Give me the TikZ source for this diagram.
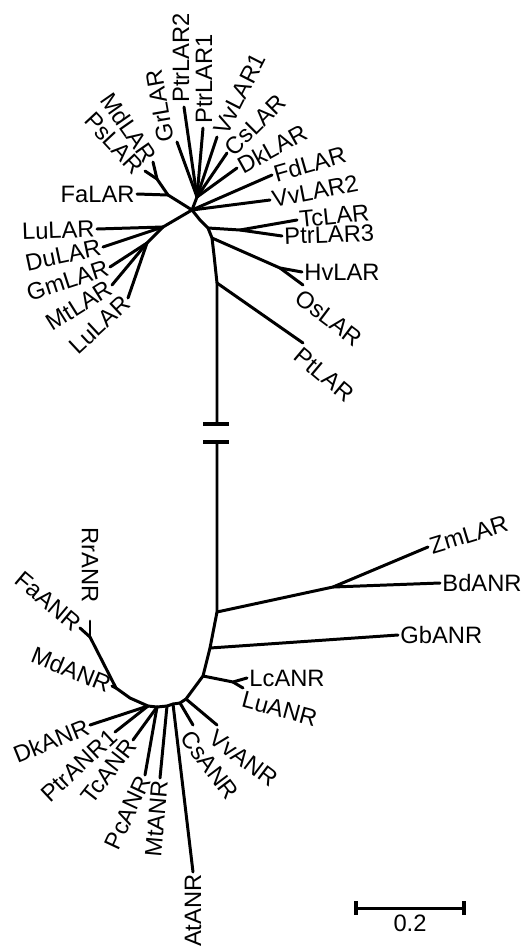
\documentclass[tikz,border=0pt]{standalone}
\usepackage{fontspec}
\setmainfont{Liberation Sans}
\begin{document}
\begin{tikzpicture}[x=0.2mm,y=-0.2mm,
  br/.style={line width=1.7pt, line join=round, line cap=round},
  brk/.style={line width=2.8pt},
  lab/.style={font=\fontsize{13.5}{15}\selectfont, inner sep=1.2pt}]
\useasboundingbox[fill=white] (0,0) rectangle (530,949);
% ---------- internal coordinates (upper cluster)
\coordinate (H) at (192,210);
\coordinate (A) at (168,195);
\coordinate (B) at (157,179);
\coordinate (U) at (197,197);
\coordinate (L1) at (163,227);
\coordinate (L2) at (147,243);
\coordinate (S1) at (200,220);
\coordinate (S2) at (208,228);
\coordinate (S3) at (212,238);
\coordinate (S4) at (214,255);
\coordinate (S5) at (217,283);
\coordinate (Sb) at (217,424);
\coordinate (TP) at (240,230);
\coordinate (HO) at (280,268);
% tips
\coordinate (tPs) at (145,171);
\coordinate (tMd) at (153,162);
\coordinate (tFa) at (137,194);
\coordinate (tGr) at (177,142);
\coordinate (tPtr2) at (184,107);
\coordinate (tPtr1) at (203,128);
\coordinate (tVv1) at (217,137);
\coordinate (tCs) at (227,153);
\coordinate (tDk) at (237,168);
\coordinate (tFd) at (272,175);
\coordinate (tVv2) at (270,200);
\coordinate (tTc) at (297,220);
\coordinate (tPtr3) at (282,236);
\coordinate (tHv) at (302,272);
\coordinate (tOs) at (303,285);
\coordinate (tPt) at (303,343);
\coordinate (tLu) at (97,229);
\coordinate (tDu) at (103,247);
\coordinate (tGm) at (110,267);
\coordinate (tMt) at (112,285);
\coordinate (tLu2) at (128,298);
% ---------- lower cluster
\coordinate (Sc) at (217,442);
\coordinate (N1) at (217,612);
\coordinate (ZB) at (333,587);
\coordinate (N2) at (210,648);
\coordinate (N3) at (203,676);
\coordinate (LL) at (233,682);
\coordinate (C2) at (186,699);
\coordinate (C3) at (180,703);
\coordinate (C4) at (173,704);
\coordinate (C5) at (167,706);
\coordinate (C6) at (157,707);
\coordinate (C7) at (148,706);
\coordinate (C8) at (130,698);
\coordinate (C9) at (116,688);
\coordinate (F) at (90,637);
\coordinate (tZm) at (428,547);
\coordinate (tBd) at (440,583);
\coordinate (tGb) at (398,635);
\coordinate (tLc) at (247,678);
\coordinate (tLuA) at (243,688);
\coordinate (tVvA) at (217,725);
\coordinate (tCsA) at (193,725);
\coordinate (tAt) at (193,872);
\coordinate (tMtA) at (160,778);
\coordinate (tPc) at (145,775);
\coordinate (tTcA) at (133,740);
\coordinate (tPtrA) at (115,732);
\coordinate (tDkA) at (90,725);
\coordinate (tMdA) at (112,686);
\coordinate (tFaA) at (80,628);
\coordinate (tRr) at (90,621);
% ---------- branches upper
\draw[br] (H) -- (A) -- (B) -- (tPs);
\draw[br] (A) -- (tFa);
\draw[br] (B) -- (tMd);
\draw[br] (H) -- (U);
\foreach \t in {tGr,tPtr2,tPtr1,tVv1,tCs,tDk} \draw[br] (U) -- (\t);
\draw[br] (H) -- (tFd);
\draw[br] (H) -- (tVv2);
\draw[br] (H) -- (L1) -- (L2);
\draw[br] (L1) -- (tLu);
\draw[br] (L1) -- (tDu);
\foreach \t in {tGm,tMt,tLu2} \draw[br] (L2) -- (\t);
\draw[br] (H) -- (S1) -- (S2) -- (S3) -- (S4) -- (S5) -- (Sb);
\draw[br] (S2) -- (TP) -- (tTc);
\draw[br] (TP) -- (tPtr3);
\draw[br] (S3) -- (HO) -- (tHv);
\draw[br] (HO) -- (tOs);
\draw[br] (S5) -- (tPt);
% break marks
\draw[brk] (203,424) -- (229,424);
\draw[brk] (203,442) -- (229,442);
% ---------- branches lower
\draw[br] (Sc) -- (N1) -- (N2) -- (N3) -- (C2) -- (C3) -- (C4) -- (C5) -- (C6) -- (C7) -- (C8) -- (C9) -- (F);
\draw[br] (N1) -- (ZB) -- (tZm);
\draw[br] (ZB) -- (tBd);
\draw[br] (N2) -- (tGb);
\draw[br] (N3) -- (LL) -- (tLc);
\draw[br] (LL) -- (tLuA);
\draw[br] (C2) -- (tVvA);
\draw[br] (C3) -- (tCsA);
\draw[br] (C4) -- (tAt);
\draw[br] (C5) -- (tMtA);
\draw[br] (C6) -- (tPc);
\draw[br] (C6) -- (tTcA);
\draw[br] (C7) -- (tPtrA);
\draw[br] (C7) -- (tDkA);
\draw[br] (C9) -- (tMdA);
\draw[br] (F) -- (tFaA);
\draw[br] (F) -- (tRr);
% ---------- labels upper
\node[lab,anchor=east,rotate=-47] (lPs) at (141,172) {PsLAR};
\node[lab,anchor=east,rotate=-55] (lMd) at (tMd) {MdLAR};
\node[lab,anchor=east] (lFa) at (tFa) {FaLAR};
\node[lab,anchor=south west,rotate=100] (lGr) at (tGr) {GrLAR};
\node[lab,anchor=west,rotate=90] (lPtr2) at (181,105) {PtrLAR2};
\node[lab,anchor=west,rotate=90] (lPtr1) at (204,126) {PtrLAR1};
\node[lab,anchor=west,rotate=63] (lVv1) at (219,135) {VvLAR1};
\node[lab,anchor=west,rotate=45] (lCs) at (tCs) {CsLAR};
\node[lab,anchor=west,rotate=29] (lDk) at (tDk) {DkLAR};
\node[lab,anchor=west,rotate=16] (lFd) at (tFd) {FdLAR};
\node[lab,anchor=west,rotate=11] (lVv2) at (tVv2) {VvLAR2};
\node[lab,anchor=west,rotate=6] (lTc) at (tTc) {TcLAR};
\node[lab,anchor=west,rotate=2] (lPtr3) at (tPtr3) {PtrLAR3};
\node[lab,anchor=west] (lHv) at (tHv) {HvLAR};
\node[lab,anchor=north west,rotate=-37] (lOs) at (tOs) {OsLAR};
\node[lab,anchor=north west,rotate=-40] (lPt) at (tPt) {PtLAR};
\node[lab,anchor=east,rotate=2] (lLu) at (tLu) {LuLAR};
\node[lab,anchor=east,rotate=12] (lDu) at (tDu) {DuLAR};
\node[lab,anchor=east,rotate=18] (lGm) at (tGm) {GmLAR};
\node[lab,anchor=east,rotate=32] (lMt) at (tMt) {MtLAR};
\node[lab,anchor=east,rotate=43] (lLu2) at (tLu2) {LuLAR};
% ---------- labels lower
\node[lab,anchor=west,rotate=17] (lZm) at (tZm) {ZmLAR};
\node[lab,anchor=west] (lBd) at (tBd) {BdANR};
\node[lab,anchor=west] (lGb) at (tGb) {GbANR};
\node[lab,anchor=west] (lLc) at (tLc) {LcANR};
\node[lab,anchor=north west,rotate=-15] (lLuA) at (tLuA) {LuANR};
\node[lab,anchor=north west,rotate=-37] (lVvA) at (tVvA) {VvANR};
\node[lab,anchor=north west,rotate=-53] (lCsA) at (tCsA) {CsANR};
\node[lab,anchor=east,rotate=90] (lAt) at (tAt) {AtANR};
\node[lab,anchor=east,rotate=85] (lMtA) at (tMtA) {MtANR};
\node[lab,anchor=east,rotate=65] (lPc) at (tPc) {PcANR};
\node[lab,anchor=east,rotate=52] (lTcA) at (tTcA) {TcANR};
\node[lab,anchor=east,rotate=43] (lPtrA) at (tPtrA) {PtrANR1};
\node[lab,anchor=east,rotate=22] (lDkA) at (tDkA) {DkANR};
\node[lab,anchor=east,rotate=-22] (lMdA) at (tMdA) {MdANR};
\node[lab,anchor=east,rotate=-40] (lFaA) at (tFaA) {FaANR};
\node[lab,anchor=east,rotate=-90] (lRr) at (90,605) {RrANR};
% ---------- scale bar
\coordinate (sb1) at (355,908);
\coordinate (sb2) at (465,908);
\draw[br,line cap=butt] (sb1) -- (sb2);
\draw[brk] (356,901) -- (356,915);
\draw[brk] (464,901) -- (464,915);
\node[lab,anchor=north] (lsb) at (410,912) {0.2};
\end{tikzpicture}
\end{document}
